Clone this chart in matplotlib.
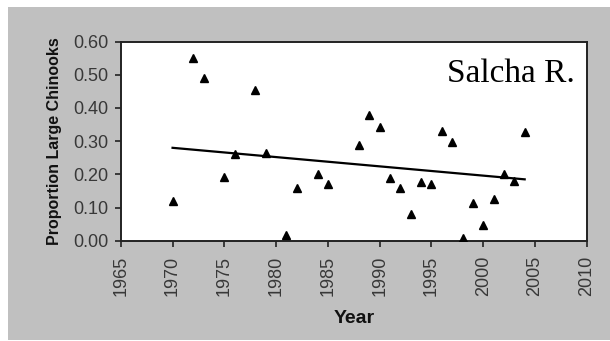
import numpy as np
import matplotlib
matplotlib.use("Agg")
import matplotlib.pyplot as plt
from matplotlib.patches import Rectangle

years = [1970, 1972, 1973, 1975, 1976, 1978, 1979, 1981, 1982, 1984, 1985,
         1988, 1989, 1990, 1991, 1992, 1993, 1994, 1995, 1996, 1997, 1998,
         1999, 2000, 2001, 2002, 2003, 2004]
proportion = [0.12, 0.55, 0.49, 0.193, 0.26, 0.454, 0.265, 0.017, 0.16, 0.20,
              0.17, 0.288, 0.379, 0.344, 0.19, 0.158, 0.082, 0.177, 0.17,
              0.33, 0.298, 0.007, 0.115, 0.047, 0.125, 0.202, 0.18, 0.327]
trend_years = [1970, 2004]
trend_values = [0.280, 0.185]
x_ticks = [1965, 1970, 1975, 1980, 1985, 1990, 1995, 2000, 2005, 2010]
y_ticks = [0.0, 0.1, 0.2, 0.3, 0.4, 0.5, 0.6]

plt.rcParams['font.family'] = ['Liberation Sans', 'DejaVu Sans']

fig = plt.figure(figsize=(6.10, 3.41), dpi=100)
fig.patch.set_facecolor('white')
bg = Rectangle((8 / 610, 0.003), 1 - 8 / 610, 0.9765,
               transform=fig.transFigure, facecolor='#c0c0c0',
               edgecolor='none', zorder=-10)
fig.add_artist(bg)

ax = fig.add_axes([0.198, 0.294, 0.764, 0.584])
ax.set_zorder(1)
ax.set_facecolor('white')

ax.plot(trend_years, trend_values, color='black', lw=1.6, zorder=2)
ax.plot(years, proportion, linestyle='none', marker='^', color='black',
        markersize=5.5, zorder=3)

ax.set_xlim(1965, 2010)
ax.set_ylim(0, 0.6)
ax.set_xticks(x_ticks)
ax.set_xticklabels([str(t) for t in x_ticks], rotation=90)
ax.set_yticks(y_ticks)
ax.set_yticklabels([f"{t:.2f}" for t in y_ticks])
ax.tick_params(axis='both', direction='out', length=4, width=1.2, color='#222222',
               labelsize=13, labelcolor='#383838')
ax.tick_params(axis='y', pad=5)
ax.tick_params(axis='x', pad=7)
for s in ax.spines.values():
    s.set_linewidth(1.4)
    s.set_color('#222222')

ax.set_xlabel('Year', fontsize=14, fontweight='bold', color='#111111', labelpad=10)
ax.set_ylabel('Proportion Large Chinooks', fontsize=11.5, fontweight='bold',
              color='#111111', labelpad=8)

ax.text(2008.8, 0.478, 'Salcha R.', ha='right', va='baseline', fontsize=24,
        family=['Liberation Serif', 'DejaVu Serif'], color='black')

fig.savefig('out.png', dpi=100)
